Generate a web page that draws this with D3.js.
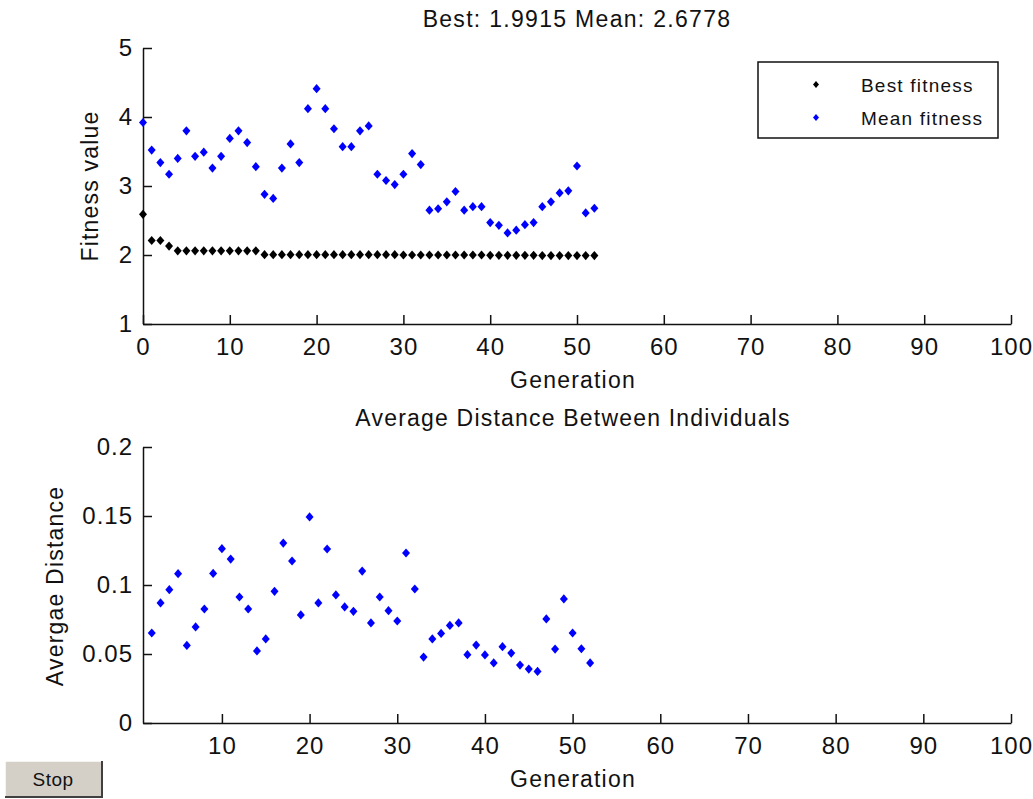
<!DOCTYPE html>
<html lang="en">
<head>
<meta charset="utf-8">
<title>GA plot</title>
<script src="https://d3js.org/d3.v7.min.js"></script>
<style>
  body { margin: 0; background: #fff; }
  text { font-family: "Liberation Sans", Arial, sans-serif; fill: #111; }
  .axis path, .axis line { stroke: #111; stroke-width: 1.5; }
  .axis text { font-size: 24px; letter-spacing: 1px; fill: #111; font-family: "Liberation Sans", Arial, sans-serif; }
</style>
</head>
<body>
<script>
// --- data ---
// best / mean fitness, generation 0..52
var bestFitness = [2.59, 2.21, 2.21, 2.13, 2.06, 2.06, 2.06, 2.06, 2.06, 2.06,
  2.06, 2.06, 2.06, 2.06, 2.005, 2.005, 2.005, 2.005, 2.005, 2.005,
  2.005, 2.005, 2.005, 2.005, 2.005, 2.005, 2.005, 2.005, 2.005, 2.005,
  2.0, 2.0, 2.0, 2.0, 2.0, 2.0, 2.0, 2.0, 2.0, 2.0,
  1.995, 1.995, 1.995, 1.995, 1.995, 1.995, 1.9915, 1.9915, 1.9915, 1.9915,
  1.9915, 1.9915, 1.9915];
var meanFitness = [3.92, 3.52, 3.34, 3.17, 3.40, 3.80, 3.43, 3.49, 3.26, 3.43,
  3.69, 3.80, 3.63, 3.28, 2.88, 2.82, 3.26, 3.61, 3.34, 4.12,
  4.41, 4.12, 3.83, 3.57, 3.57, 3.80, 3.87, 3.17, 3.08, 3.02,
  3.17, 3.47, 3.31, 2.65, 2.67, 2.77, 2.92, 2.65, 2.70, 2.70,
  2.47, 2.43, 2.32, 2.36, 2.44, 2.47, 2.70, 2.77, 2.90, 2.93,
  3.29, 2.61, 2.6778];
// average distance, generation 2..52
var distFirstGen = 2;
var avgDistance = [0.0652, 0.0870, 0.0966, 0.1082, 0.0562, 0.0696, 0.0826, 0.1084, 0.1263, 0.1188,
  0.0913, 0.0826, 0.0522, 0.0609, 0.0954, 0.1304, 0.1174, 0.0783, 0.1493, 0.0870,
  0.1261, 0.0928, 0.0841, 0.0809, 0.1101, 0.0725, 0.0913, 0.0814, 0.0739, 0.1232,
  0.0971, 0.0478, 0.0609, 0.0649, 0.0707, 0.0725, 0.0495, 0.0565, 0.0493, 0.0435,
  0.0553, 0.0507, 0.0420, 0.0391, 0.0374, 0.0754, 0.0536, 0.0899, 0.0652, 0.0538,
  0.0435];

var topXTicks = [0, 10, 20, 30, 40, 50, 60, 70, 80, 90, 100];
var topYTicks = [1, 2, 3, 4, 5];
var botXTicks = [10, 20, 30, 40, 50, 60, 70, 80, 90, 100];
var botYTicks = [0, 0.05, 0.1, 0.15, 0.2];
var legendLabels = ["Best fitness", "Mean fitness"];
var legendColors = ["#000000", "#0000ff"];

var w = 1033, h = 799;
var svg = d3.select("body").append("svg").attr("width", w).attr("height", h);
svg.append("rect").attr("width", w).attr("height", h).attr("fill", "white");

// scales
var x1 = d3.scaleLinear().domain([0, 100]).range([143, 1011]);
var y1 = d3.scaleLinear().domain([1, 5]).range([324, 48]);
var x2 = d3.scaleLinear().domain([1, 100]).range([143, 1011]);
var y2 = d3.scaleLinear().domain([0, 0.2]).range([723, 447]);

var diamond = "M0,-4.6L4,0L0,4.6L-4,0Z";
var smallDiamond = "M0,-3.4L3,0L0,3.4L-3,0Z";

// axes (ticks point inward, no box)
function drawAxes(xs, ys, xt, yt, yfmt) {
  svg.append("g").attr("class", "axis")
    .attr("transform", "translate(0," + ys.range()[0] + ")")
    .call(d3.axisBottom(xs).tickValues(xt).tickSizeInner(-9).tickSizeOuter(0).tickPadding(12))
    .selectAll("text").attr("dy", "0.78em");
  svg.append("g").attr("class", "axis")
    .attr("transform", "translate(" + xs.range()[0] + ",0)")
    .call(d3.axisLeft(ys).tickValues(yt).tickSizeInner(-9).tickSizeOuter(0).tickPadding(10).tickFormat(yfmt));
}
drawAxes(x1, y1, topXTicks, topYTicks, d3.format("d"));
drawAxes(x2, y2, botXTicks, botYTicks, d3.format("~g"));

// top plot points
svg.append("g").selectAll("path.best").data(bestFitness).enter().append("path")
  .attr("class", "best")
  .attr("d", diamond).attr("fill", legendColors[0])
  .attr("transform", function(d, i) { return "translate(" + x1(i) + "," + y1(d) + ")"; });
svg.append("g").selectAll("path.mean").data(meanFitness).enter().append("path")
  .attr("class", "mean")
  .attr("d", diamond).attr("fill", legendColors[1])
  .attr("transform", function(d, i) { return "translate(" + x1(i) + "," + y1(d) + ")"; });

// bottom plot points
svg.append("g").selectAll("path.dist").data(avgDistance).enter().append("path")
  .attr("class", "dist")
  .attr("d", diamond).attr("fill", "#0000ff")
  .attr("transform", function(d, i) { return "translate(" + x2(i + distFirstGen) + "," + y2(d) + ")"; });

// titles and labels
svg.append("text").attr("x", 577).attr("y", 27).attr("text-anchor", "middle")
  .style("font-size", "23px").style("letter-spacing", "1.3px")
  .text("Best: 1.9915 Mean: 2.6778");
svg.append("text").attr("x", 573).attr("y", 388).attr("text-anchor", "middle")
  .style("font-size", "23px").style("letter-spacing", "1.2px").text("Generation");
svg.append("text").attr("transform", "translate(98,186) rotate(-90)").attr("text-anchor", "middle")
  .style("font-size", "23px").style("letter-spacing", "1.2px").text("Fitness value");
svg.append("text").attr("x", 573).attr("y", 426).attr("text-anchor", "middle")
  .style("font-size", "23px").style("letter-spacing", "1.2px").text("Average Distance Between Individuals");
svg.append("text").attr("x", 573).attr("y", 787).attr("text-anchor", "middle")
  .style("font-size", "23px").style("letter-spacing", "1.2px").text("Generation");
svg.append("text").attr("transform", "translate(63,586) rotate(-90)").attr("text-anchor", "middle")
  .style("font-size", "23px").style("letter-spacing", "1.2px").text("Avergae Distance");

// legend
var lg = svg.append("g");
lg.append("rect").attr("x", 758).attr("y", 62).attr("width", 240).attr("height", 76)
  .attr("fill", "white").attr("stroke", "#111").attr("stroke-width", 1.5);
var items = lg.selectAll("g.item").data(legendLabels).enter().append("g")
  .attr("class", "item")
  .attr("transform", function(d, i) { return "translate(816," + (84.5 + i * 33) + ")"; });
items.append("path").attr("d", smallDiamond)
  .attr("fill", function(d, i) { return legendColors[i]; });
items.append("text").attr("x", 45).attr("y", 7)
  .style("font-size", "19px").style("letter-spacing", "1.2px")
  .text(function(d) { return d; });

// Stop button
var btn = svg.append("g");
btn.append("rect").attr("x", 5).attr("y", 761).attr("width", 97).attr("height", 36)
  .attr("fill", "#d4d0c8");
btn.append("path").attr("d", "M5,797V761H102").attr("fill", "none").attr("stroke", "#fff").attr("stroke-width", 1.5);
btn.append("path").attr("d", "M5,797H102V761").attr("fill", "none").attr("stroke", "#404040").attr("stroke-width", 2);
btn.append("text").attr("x", 53).attr("y", 786).attr("text-anchor", "middle")
  .style("font-size", "19px").style("letter-spacing", "0.5px").text("Stop");
</script>
</body>
</html>
